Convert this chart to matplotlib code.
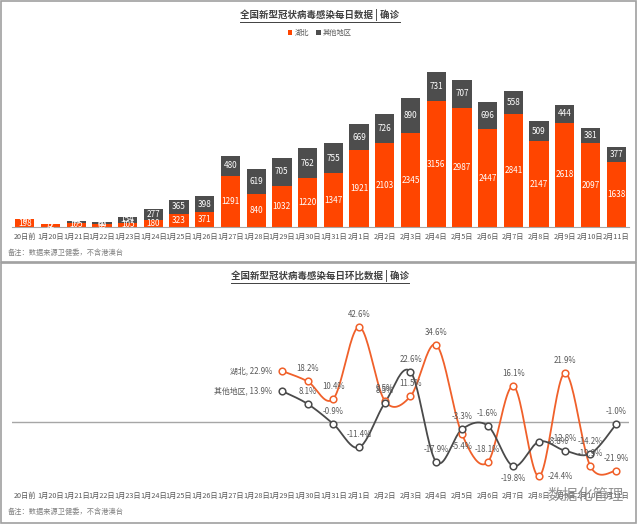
import numpy as np
import matplotlib
matplotlib.use('Agg')
import matplotlib.pyplot as plt
from matplotlib.lines import Line2D
from matplotlib.patches import Rectangle

plt.rcParams['font.family'] = ['Noto Sans CJK SC', 'DejaVu Sans']

# ---------------- data ----------------
categories = ['20日前', '1月20日', '1月21日', '1月22日', '1月23日', '1月24日', '1月25日',
              '1月26日', '1月27日', '1月28日', '1月29日', '1月30日', '1月31日', '2月1日',
              '2月2日', '2月3日', '2月4日', '2月5日', '2月6日', '2月7日', '2月8日',
              '2月9日', '2月10日', '2月11日']
hubei = [198, 72, 105, 69, 105, 180, 323, 371, 1291, 840, 1032, 1220, 1347, 1921,
         2103, 2345, 3156, 2987, 2447, 2841, 2147, 2618, 2097, 1638]
other = [0, 5, 44, 62, 154, 277, 365, 398, 480, 619, 705, 762, 755, 669,
         726, 890, 731, 707, 696, 558, 509, 444, 381, 377]

ratio_start = '1月29日'
hubei_pct = [22.9, 18.2, 10.4, 42.6, 9.5, 11.5, 34.6, -5.4, -18.1, 16.1, -24.4, 21.9, -19.9, -21.9]
other_pct = [13.9, 8.1, -0.9, -11.4, 8.5, 22.6, -17.9, -3.3, -1.6, -19.8, -8.8, -12.8, -14.2, -1.0]

series_names = ['湖北', '其他地区']
title_top = '全国新型冠状病毒感染每日数据 | 确诊'
title_bottom = '全国新型冠状病毒感染每日环比数据 | 确诊'
note = '备注：数据来源卫健委，不含港澳台'
watermark = '数据化管理'

# label placement style (not data)
hubei_pos = ['left', 'above', 'above', 'above', 'above', 'above', 'above', 'below',
             'above', 'above', 'right', 'above', 'above', 'above']
other_pos = ['left', 'above', 'above', 'above', 'above', 'above', 'above', 'above',
             'above', 'below', 'right', 'above', 'above', 'above']

C_ORANGE = '#FF4500'
C_DARK = '#4D4D4D'
C_LINE_O = '#F0602A'
C_LINE_D = '#4A4A4A'
C_TEXT = '#595959'

W, H = 640, 525
fig = plt.figure(figsize=(6.4, 5.25), dpi=100)


def fx(px):
    return px / W


def fy(py):
    return 1 - py / H


# panel borders
for (y0, y1) in [(1, 262), (263, 523)]:
    fig.add_artist(Rectangle((fx(1), fy(y1)), fx(635), (y1 - y0) / H,
                             transform=fig.transFigure, fill=False,
                             edgecolor='#A0A0A0', linewidth=1.2))

# ---------------- top: stacked bars ----------------
ax1 = fig.add_axes([fx(12), fy(227), fx(617), (227 - 55) / H])
x = np.arange(len(categories))
b1 = ax1.bar(x, hubei, width=0.75, color=C_ORANGE, label=series_names[0])
b2 = ax1.bar(x, other, width=0.75, bottom=hubei, color=C_DARK, label=series_names[1])
ax1.set_xlim(-0.5, len(categories) - 0.5)
ax1.set_ylim(0, 4313)
ax1.set_yticks([])
for s in ['top', 'right', 'left']:
    ax1.spines[s].set_visible(False)
ax1.spines['bottom'].set_color('#A6A6A6')
ax1.set_xticks(x, categories)
ax1.tick_params(axis='x', length=0, labelsize=5.2, colors=C_TEXT, pad=4)
ax1.bar_label(b1, labels=[str(v) for v in hubei], label_type='center',
              color='white', fontsize=5.9)
ax1.bar_label(b2, labels=[str(v) for v in other], label_type='center',
              color='white', fontsize=5.9)
fig.legend(handles=[b1, b2], labels=series_names, loc='center',
           bbox_to_anchor=(0.5, fy(33)), ncol=2, frameon=False,
           fontsize=5.2, handlelength=0.6, handleheight=0.6, handletextpad=0.3,
           columnspacing=1.0, labelcolor=C_TEXT)

# ---------------- bottom: ratio lines ----------------
ax2 = fig.add_axes([fx(12), fy(488), fx(617), (488 - 300) / H])
ax2.set_xlim(-0.5, len(categories) - 0.5)
ax2.set_ylim(-29.6, 54.7)
ax2.set_yticks([])
for s in ['top', 'right', 'left', 'bottom']:
    ax2.spines[s].set_visible(False)
ax2.axhline(0, color='#A6A6A6', linewidth=1.0)
ax2.set_xticks(x, categories)
ax2.tick_params(axis='x', length=0, labelsize=5.2, colors=C_TEXT, pad=3)

i0 = categories.index(ratio_start)
xr = np.arange(i0, i0 + len(hubei_pct))


def catmull(xs, ys, n=24):
    pts = np.column_stack([xs, ys]).astype(float)
    out = []
    for i in range(len(pts) - 1):
        p0 = pts[i - 1] if i > 0 else pts[i]
        p1 = pts[i]
        p2 = pts[i + 1]
        p3 = pts[i + 2] if i + 2 < len(pts) else pts[i + 1]
        c1 = p1 + (p2 - p0) / 6
        c2 = p2 - (p3 - p1) / 6
        t = np.linspace(0, 1, n)[:, None]
        seg = ((1 - t) ** 3) * p1 + 3 * ((1 - t) ** 2) * t * c1 + 3 * (1 - t) * t ** 2 * c2 + t ** 3 * p2
        out.append(seg if i == 0 else seg[1:])
    out = np.vstack(out)
    return out[:, 0], out[:, 1]


for vals, col, pos, name in [(hubei_pct, C_LINE_O, hubei_pos, series_names[0]),
                             (other_pct, C_LINE_D, other_pos, series_names[1])]:
    sx, sy = catmull(xr, vals)
    ax2.plot(sx, sy, color=col, linewidth=1.3, zorder=3)
    ax2.plot(xr, vals, linestyle='none', marker='o', markersize=4.8,
             markerfacecolor='white', markeredgecolor=col, markeredgewidth=1.1, zorder=4)
    for k, (xi, v, p) in enumerate(zip(xr, vals, pos)):
        txt = f'{v:.1f}%'
        if k == 0:
            txt = f'{name}, {txt}'
        if p == 'above':
            off, ha = (0, 9), 'center'
        elif p == 'below':
            off, ha = (0, -9), 'center'
        elif p == 'left':
            off, ha = (-7, 0), 'right'
        else:
            off, ha = (6, 0), 'left'
        ax2.annotate(txt, (xi, v), xytext=off, textcoords='offset points',
                     ha=ha, va='center', fontsize=5.7, color=C_TEXT, zorder=5)

# ---------------- titles, notes ----------------
t1 = fig.text(0.5, fy(15), title_top, ha='center', va='center', fontsize=6.8,
              fontweight='bold', color='#404040')
t2 = fig.text(0.5, fy(276), title_bottom, ha='center', va='center', fontsize=6.8,
              fontweight='bold', color='#404040')
fig.text(fx(8), fy(253), note, ha='left', va='center', fontsize=5.2, color='#7F7F7F')
fig.text(fx(8), fy(512), note, ha='left', va='center', fontsize=5.2, color='#7F7F7F')
fig.text(fx(624), fy(495), watermark, ha='right', va='center', fontsize=11,
         color='#808080', alpha=0.85)

fig.canvas.draw()
r = fig.canvas.get_renderer()
for t in (t1, t2):
    bb = t.get_window_extent(r).transformed(fig.transFigure.inverted())
    fig.add_artist(Line2D([bb.x0, bb.x1], [bb.y0 - 0.002, bb.y0 - 0.002],
                          transform=fig.transFigure, color='#404040', linewidth=0.7))

fig.savefig('out.png', dpi=100, facecolor='white')
